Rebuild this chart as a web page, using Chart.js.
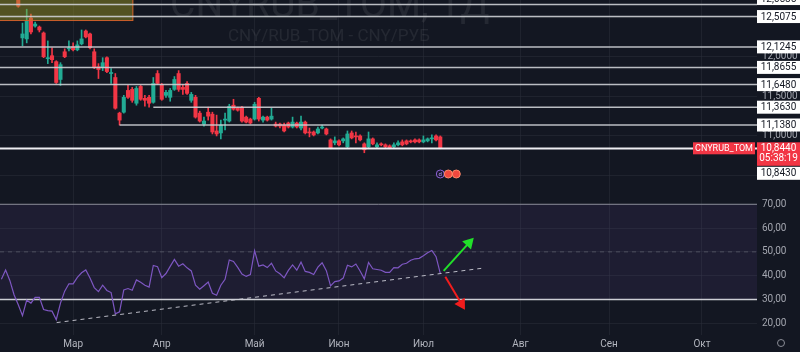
<!DOCTYPE html>
<html>
<head>
<meta charset="utf-8">
<title>CNYRUB_TOM, 1Д</title>
<script src="https://cdn.jsdelivr.net/npm/chart.js@4.4.1/dist/chart.umd.min.js"></script>
<style>
  html, body { margin: 0; padding: 0; background: #131722; }
  #wrap { position: relative; width: 800px; height: 352px; overflow: hidden; background: #131722; }
  canvas { position: absolute; left: 0; }
  #price { top: 0; }
  #rsi { top: 190px; }
</style>
</head>
<body>
<div id="wrap">
  <canvas id="price" width="800" height="190"></canvas>
  <canvas id="rsi" width="800" height="162"></canvas>
</div>
<script>
// daily bars, index 0 = first bar at the left edge (Feb), last bar = 7 Jul
const openP = [12.95, 12.88, 12.92, 12.85, 12.750,
  12.238, 12.225, 12.488, 12.388, 12.375,
  12.300, 11.975, 12.013, 11.938, 11.713,
  12.063, 12.100, 12.125, 12.088, 12.163,
  12.325, 12.288, 12.063, 11.875, 11.863,
  11.988, 11.788, 11.738, 11.288, 11.300,
  11.575, 11.588, 11.413, 11.625, 11.475,
  11.488, 11.425, 11.788, 11.650, 11.513,
  11.488, 11.588, 11.788, 11.613, 11.663,
  11.450, 11.488, 11.288, 11.150, 11.300,
  11.275, 11.063, 11.038, 11.200, 11.188,
  11.388, 11.350, 11.363, 11.238, 11.213,
  11.213, 11.475, 11.200, 11.238, 11.213,
  11.150, 11.150, 11.138, 11.163, 11.113,
  11.163, 11.100, 11.175, 11.050, 11.050,
  11.038, 11.100, 11.088, 10.950, 10.913,
  10.938, 10.938, 10.863, 11.038, 11.000,
  11.000, 10.900, 10.863, 10.963, 10.863,
  10.900, 10.888, 10.875, 10.863, 10.888,
  10.925, 10.938, 10.938, 10.950, 10.950,
  10.925, 10.938, 10.963, 11.000, 10.988];
const highP = [13.00, 12.96, 12.95, 12.90, 12.800,
  12.425, 12.600, 12.538, 12.438, 12.388,
  12.313, 12.200, 12.113, 11.950, 11.925,
  12.100, 12.200, 12.175, 12.200, 12.338,
  12.338, 12.300, 12.100, 11.913, 11.988,
  12.000, 11.850, 11.788, 11.300, 11.513,
  11.638, 11.613, 11.625, 11.638, 11.513,
  11.513, 11.738, 11.825, 11.663, 11.575,
  11.600, 11.750, 11.825, 11.650, 11.688,
  11.550, 11.513, 11.313, 11.238, 11.363,
  11.300, 11.263, 11.200, 11.288, 11.400,
  11.463, 11.363, 11.375, 11.250, 11.225,
  11.425, 11.488, 11.250, 11.250, 11.350,
  11.175, 11.163, 11.163, 11.175, 11.238,
  11.175, 11.250, 11.188, 11.100, 11.063,
  11.113, 11.138, 11.100, 10.963, 10.988,
  10.950, 10.975, 11.063, 11.063, 11.050,
  11.013, 10.913, 11.050, 10.975, 10.913,
  10.913, 10.900, 10.888, 10.913, 10.938,
  10.950, 10.950, 10.950, 10.963, 10.963,
  11.000, 10.975, 11.013, 11.013, 11.000];
const lowP = [12.86, 12.84, 12.82, 12.74, 12.625,
  12.138, 12.175, 12.288, 12.375, 12.313,
  11.988, 11.913, 11.925, 11.663, 11.638,
  11.988, 12.075, 12.075, 12.075, 12.150,
  12.238, 12.100, 11.850, 11.725, 11.825,
  11.800, 11.663, 11.338, 11.138, 11.288,
  11.475, 11.425, 11.388, 11.450, 11.375,
  11.363, 11.413, 11.650, 11.450, 11.488,
  11.438, 11.575, 11.563, 11.525, 11.525,
  11.425, 11.225, 11.175, 11.125, 11.200,
  11.025, 11.000, 10.963, 11.075, 11.175,
  11.325, 11.313, 11.175, 11.163, 11.150,
  11.200, 11.188, 11.175, 11.188, 11.200,
  11.113, 11.100, 11.050, 11.100, 11.100,
  11.100, 11.075, 11.025, 10.988, 11.000,
  11.025, 11.088, 11.013, 10.838, 10.888,
  10.875, 10.913, 10.850, 10.963, 10.913,
  10.938, 10.788, 10.850, 10.888, 10.850,
  10.875, 10.850, 10.838, 10.850, 10.875,
  10.875, 10.888, 10.913, 10.913, 10.913,
  10.913, 10.925, 10.913, 10.938, 10.838];
const closeP = [12.88, 12.92, 12.85, 12.76, 12.638,
  12.288, 12.450, 12.313, 12.413, 12.338,
  12.000, 11.988, 11.963, 11.675, 11.900,
  12.000, 12.113, 12.088, 12.150, 12.225,
  12.250, 12.113, 11.863, 11.838, 11.925,
  11.813, 11.800, 11.350, 11.200, 11.488,
  11.488, 11.450, 11.600, 11.463, 11.450,
  11.413, 11.663, 11.663, 11.463, 11.550,
  11.575, 11.713, 11.588, 11.588, 11.538,
  11.525, 11.238, 11.188, 11.188, 11.250,
  11.050, 11.025, 11.138, 11.213, 11.375,
  11.338, 11.325, 11.188, 11.175, 11.163,
  11.400, 11.213, 11.238, 11.200, 11.250,
  11.125, 11.125, 11.063, 11.113, 11.175,
  11.113, 11.175, 11.038, 11.038, 11.013,
  11.088, 11.113, 11.025, 10.850, 10.938,
  10.888, 10.963, 11.025, 10.975, 10.988,
  10.950, 10.825, 10.963, 10.900, 10.888,
  10.888, 10.863, 10.850, 10.888, 10.913,
  10.888, 10.900, 10.925, 10.925, 10.925,
  10.950, 10.963, 10.975, 10.950, 10.844];
const rsiValues = [38.5, 42.4, 38, 32, 27.8, 23.2, 29.7, 28.5, 30.9, 30.9,
  25.8, 25.3, 25.1, 21.5, 28.5, 33.5, 36.6, 36.6, 39.3, 41.2,
  42.4, 39, 35, 33.3, 36, 33.8, 32.9, 24, 24.8, 34,
  34.6, 33.9, 38.2, 37.2, 36, 35.2, 44.3, 43.8, 39.2, 40.9,
  43.9, 46.8, 44, 45, 43.3, 42, 36, 34.3, 35.8, 37.3,
  32.6, 31.8, 36, 38.5, 46.6, 46, 43.5, 40.7, 39.7, 40.5,
  50.5, 44, 44.5, 43.4, 45.2, 42, 40.8, 39.1, 42.2, 44.5,
  42.3, 45.7, 41.8, 41.4, 40.5, 43.6, 45.4, 42.1, 35.7, 37.5,
  37.8, 39, 44.4, 43.7, 44.9, 42, 38.7, 45.6, 42.9, 42.6,
  42.3, 41.4, 41.4, 43.4, 43.3, 44.8, 45.2, 46.5, 47.1, 47.3,
  48.4, 49.6, 50.6, 48, 41];

const monthLabels = ['Мар', 'Апр', 'Май', 'Июн', 'Июл', 'Авг', 'Сен', 'Окт'];
const monthStart = [17, 38, 60, 80, 100, 123, 144, 166];

// horizontal levels drawn on the chart (null = from the left edge)
const levelValues = [12.6585, 12.5075, 12.1245, 11.8655, 11.6480, 11.3630, 11.1380, 10.8430];
const levelFrom = [null, null, null, null, null, 36, 28, null];

const ticker = 'CNYRUB_TOM';
const lastPrice = 10.844;
const countdown = '05:38:19';

const rsiLevels = [70, 50, 30];
const rsiTrend = [[13.1, 20.3], [113.8, 43.1]];
const arrowUp = [[104.8, 42.0], [110.8, 53.8]];
const arrowDown = [[105.2, 39.6], [109.0, 28.2]];
const boxBars = [-1, 31.26];
const boxPrices = [12.451, 12.8];

Chart.defaults.font.family = 'Roboto, "DejaVu Sans", sans-serif';
const UP = '#22ab94', DOWN = '#f23645';
const GRID = 'rgba(42,46,57,0.55)';
const X_MIN = -0.33, X_MAX = 179.05;

const fmt = (v, d) => v.toFixed(d).replace('.', ',');
const candleColors = closeP.map((c, i) => c >= openP[i] ? UP : DOWN);
const span = (from, v) => [{ x: from, y: v }, { x: X_MAX, y: v }];

function monthAxis(showLabels) {
    return {
        type: 'linear', min: X_MIN, max: X_MAX, offset: false,
        grid: { offset: false, color: GRID, drawTicks: false },
        border: { display: false },
        afterBuildTicks: s => { s.ticks = monthStart.map(v => ({ value: v })); },
        ticks: showLabels ? {
            color: '#b2b5be', font: { size: 10 }, padding: 3, autoSkip: false, maxRotation: 0,
            callback: v => monthLabels[monthStart.indexOf(v)]
        } : { display: false },
        afterFit: s => { s.height = showLabels ? 17 : 0; s.paddingLeft = 0; s.paddingRight = 0; }
    };
}

function valueAxis(min, max, step, digits) {
    return {
        position: 'right', min: min, max: max,
        grid: { color: GRID, drawTicks: false },
        border: { display: false },
        ticks: { stepSize: step, includeBounds: false, color: '#a3a6af', font: { size: 10 }, padding: 5,
                 callback: v => fmt(v, digits) },
        afterFit: s => { s.width = 43; s.paddingTop = 0; s.paddingBottom = 0; }
    };
}

const priceOverlay = {
    id: 'priceOverlay',
    beforeDatasetsDraw(chart) {
        const ctx = chart.ctx;
        ctx.save();
        ctx.fillStyle = 'rgba(255,255,255,0.075)';
        ctx.font = '39px Roboto';
        ctx.fillText(ticker + ', 1Д', 170, 17);
        ctx.font = '17px Roboto';
        ctx.fillText('CNY/RUB_TOM - CNY/РУБ', 228, 41);
        ctx.restore();
    },
    afterDatasetDraw(chart, args) {
        if (chart.data.datasets[args.index].label !== 'body') return;
        const { ctx, scales: { x, y } } = chart;
        const x0 = x.getPixelForValue(boxBars[0]), x1 = x.getPixelForValue(boxBars[1]);
        const y0 = y.getPixelForValue(boxPrices[1]), y1 = y.getPixelForValue(boxPrices[0]);
        ctx.save();
        ctx.fillStyle = 'rgba(160,155,35,0.45)';
        ctx.fillRect(x0, y0, x1 - x0, y1 - y0);
        ctx.strokeStyle = 'rgba(225,95,45,0.85)';
        ctx.lineWidth = 1;
        ctx.strokeRect(x0 + 0.5, y0 + 0.5, x1 - x0 - 1, y1 - y0 - 1);
        ctx.restore();
    },
    afterDraw(chart) {
        const { ctx, chartArea, scales: { x, y } } = chart;
        const bx = chartArea.right, bw = chart.width - bx, bh = 13;
        ctx.save();
        ctx.font = '10px Roboto';
        ctx.textAlign = 'center';
        ctx.textBaseline = 'middle';

        // last price tag
        const cy = y.getPixelForValue(lastPrice);
        const curTop = cy - 6, curBottom = cy + 17.5;
        ctx.fillStyle = DOWN;
        ctx.fillRect(bx, curTop, bw, curBottom - curTop);
        ctx.fillRect(bx - 64, curTop, 62, 12);
        ctx.fillStyle = '#ffffff';
        ctx.fillText(fmt(lastPrice, 4), bx + bw / 2, cy + 0.5);
        ctx.fillText(countdown, bx + bw / 2, cy + 10);
        ctx.font = '9px Roboto';
        ctx.fillText(ticker, bx - 33, curTop + 6.5);
        ctx.font = '10px Roboto';

        // level tags, pushed apart when they collide
        const drawBox = (v, top) => {
            ctx.fillStyle = '#ffffff';
            ctx.fillRect(bx, top, bw, bh);
            ctx.fillStyle = '#131722';
            ctx.fillText(fmt(v, 4), bx + bw / 2, top + bh / 2 + 0.5);
        };
        const items = levelValues.map(v => ({ v: v, py: y.getPixelForValue(v) }));
        let edge = curBottom + 1;
        items.filter(it => it.py >= cy).sort((a, b) => a.py - b.py).forEach(it => {
            const top = Math.max(it.py - bh / 2, edge);
            drawBox(it.v, top);
            edge = top + bh + 1;
        });
        edge = curTop - 1;
        items.filter(it => it.py < cy).sort((a, b) => b.py - a.py).forEach(it => {
            let top = it.py - bh / 2;
            if (top + bh > edge) top = edge - 5 - bh;
            drawBox(it.v, top);
            edge = top;
        });

        // event markers under the last bar
        const my = chartArea.bottom - 16;
        const mx = x.getPixelForValue(closeP.length - 1);
        ctx.beginPath();
        ctx.arc(mx, my, 4, 0, 2 * Math.PI);
        ctx.fillStyle = '#1b1730';
        ctx.fill();
        ctx.strokeStyle = '#8e63d6';
        ctx.lineWidth = 1;
        ctx.stroke();
        ctx.font = '6px Roboto';
        ctx.fillStyle = '#b99cf0';
        ctx.fillText('d', mx, my);
        [8, 16].forEach(dx => {
            ctx.beginPath();
            ctx.arc(mx + dx, my, 4, 0, 2 * Math.PI);
            ctx.fillStyle = '#f0483e';
            ctx.fill();
            ctx.strokeStyle = '#ff8a6a';
            ctx.stroke();
        });
        ctx.restore();
    }
};

const levelSets = levelValues.map((v, k) => ({
    type: 'line', label: 'level', order: 1,
    data: span(levelFrom[k] === null ? X_MIN : levelFrom[k], v),
    borderColor: k === levelValues.length - 1 ? 'rgba(238,238,242,1)' : 'rgba(205,207,212,0.9)',
    borderWidth: k === levelValues.length - 1 ? 2 : 1.5,
    pointRadius: 0
}));

new Chart(document.getElementById('price'), {
    type: 'bar',
    data: {
        datasets: [
            ...levelSets,
            { label: 'body', order: 2, grouped: false, barThickness: 3.4, minBarLength: 1,
              data: openP.map((o, i) => ({ x: i, y: [o, closeP[i]] })), backgroundColor: candleColors },
            { label: 'wick', order: 3, grouped: false, barThickness: 1,
              data: lowP.map((l, i) => ({ x: i, y: [l, highP[i]] })), backgroundColor: candleColors }
        ]
    },
    options: {
        responsive: false, animation: false, events: [],
        layout: { padding: 0, autoPadding: false },
        plugins: { legend: { display: false }, tooltip: { enabled: false } },
        scales: { x: monthAxis(false), y: valueAxis(10.3175, 12.7165, 0.5, 4) }
    },
    plugins: [priceOverlay]
});

const rsiOverlay = {
    id: 'rsiOverlay',
    afterDraw(chart) {
        const ctx = chart.ctx;
        ctx.save();
        ctx.strokeStyle = '#8a8d96';
        ctx.lineWidth = 1;
        ctx.beginPath();
        ctx.arc(chart.width - 19, chart.height - 9, 3.5, 0, 2 * Math.PI);
        ctx.stroke();
        ctx.restore();
    }
};

const bandFill = 'rgba(126,87,194,0.1)';
new Chart(document.getElementById('rsi'), {
    type: 'line',
    data: {
        datasets: [
            { label: 'band70', order: 9, data: span(X_MIN, rsiLevels[0]), borderColor: 'rgba(165,168,178,0.8)',
              borderWidth: 1, pointRadius: 0,
              fill: { target: { value: rsiLevels[2] }, above: bandFill, below: bandFill } },
            { label: 'band50', order: 8, data: span(X_MIN, rsiLevels[1]), borderColor: 'rgba(120,123,134,0.5)',
              borderWidth: 1, borderDash: [4, 4], pointRadius: 0 },
            { label: 'band30', order: 7, data: span(X_MIN, rsiLevels[2]), borderColor: 'rgba(215,216,222,0.95)',
              borderWidth: 1.5, pointRadius: 0 },
            { label: 'RSI', order: 5, data: rsiValues.map((v, i) => ({ x: i, y: v })), borderColor: '#7e57c2',
              borderWidth: 1.2, pointRadius: 0, tension: 0 },
            { label: 'trend', order: 4, data: rsiTrend.map(p => ({ x: p[0], y: p[1] })),
              borderColor: 'rgba(205,205,215,0.9)', borderWidth: 1, borderDash: [4, 4], pointRadius: 0 },
            { label: 'up', order: 3, data: arrowUp.map(p => ({ x: p[0], y: p[1] })), borderColor: '#22e02a',
              borderWidth: 2, pointRadius: [0, 5], pointStyle: 'triangle', rotation: 43,
              pointBackgroundColor: '#22e02a', pointBorderColor: '#22e02a' },
            { label: 'down', order: 3, data: arrowDown.map(p => ({ x: p[0], y: p[1] })), borderColor: '#f21d1d',
              borderWidth: 2, pointRadius: [0, 5], pointStyle: 'triangle', rotation: 149,
              pointBackgroundColor: '#f21d1d', pointBorderColor: '#f21d1d' }
        ]
    },
    options: {
        responsive: false, animation: false, events: [],
        layout: { padding: 0, autoPadding: false },
        plugins: { legend: { display: false }, tooltip: { enabled: false } },
        scales: { x: monthAxis(true), y: valueAxis(15.08, 76, 10, 2) }
    },
    plugins: [rsiOverlay]
});
</script>
</body>
</html>
